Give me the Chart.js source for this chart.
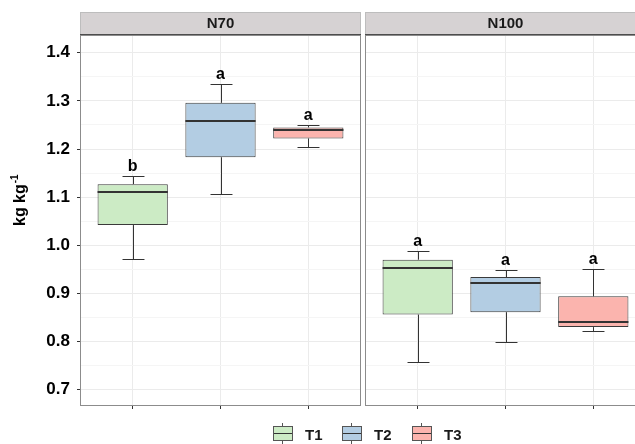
<!DOCTYPE html>
<html>
<head>
<meta charset="utf-8">
<title>N70 / N100</title>
<script src="https://cdn.jsdelivr.net/npm/chart.js@4/dist/chart.umd.min.js"></script>
<style>
body { margin:0; width:635px; height:444px; overflow:hidden; position:relative; background:#fff;
       font-family:"Liberation Sans", Arial, sans-serif; }
.panel { position:absolute; top:0; height:444px; }
#left  { left:0; width:361px; }
#right { left:365px; width:281px; }
.key { position:absolute; top:423px; width:20px; height:21px; }
.key .stub { position:absolute; left:9px; top:0; width:1px; height:21px; background:#555; }
.key .box { position:absolute; left:0; top:3px; width:18px; height:13px; border:1px solid #555; }
.key .mid { position:absolute; left:0; top:6px; width:18px; height:1px; background:#333; }
.keylabel { position:absolute; top:426px; font-weight:bold; font-size:15px; color:#1a1a1a; }
</style>
</head>
<body>
<div class="panel" id="left"><canvas id="n70"></canvas></div>
<div class="panel" id="right"><canvas id="n100"></canvas></div>
<div id="legend"></div>
<script>
var treatments = ['T1', 'T2', 'T3'];
var boxColors = ['#CCEBC5', '#B3CDE3', '#FBB4AE'];
var yTicks = [0.7, 0.75, 0.8, 0.85, 0.9, 0.95, 1.0, 1.05, 1.1, 1.15, 1.2, 1.25, 1.3, 1.35, 1.4];

// N70
var n70Lower   = [0.972, 1.107, 1.204];
var n70Q1      = [1.042, 1.183, 1.222];
var n70Median  = [1.110, 1.258, 1.239];
var n70Q3      = [1.127, 1.296, 1.245];
var n70Upper   = [1.143, 1.335, 1.251];
var n70Letters = ['b', 'a', 'a'];

// N100
var n100Lower   = [0.758, 0.800, 0.821];
var n100Q1      = [0.856, 0.861, 0.830];
var n100Median  = [0.952, 0.921, 0.841];
var n100Q3      = [0.970, 0.934, 0.894];
var n100Upper   = [0.988, 0.949, 0.950];
var n100Letters = ['a', 'a', 'a'];

var FONT = '"Liberation Sans", Arial, sans-serif';

function isMajor( v ){
  return Math.abs( Math.round( v * 10 ) - v * 10 ) < 1e-6;
}

// whiskers, medians, letters, strip and panel frame
var boxExtras = {
  id: 'boxExtras',
  beforeDatasetsDraw: function( chart, args, o ){
    var ctx = chart.ctx, xs = chart.scales.x, ys = chart.scales.y;
    var half = xs.getPixelForValue( 1.125 ) - xs.getPixelForValue( 1 );
    ctx.save();
    ctx.strokeStyle = '#333';
    ctx.lineWidth = 1;
    for( var i = 0; i < o.lower.length; i ++ ){
      var x = Math.round( xs.getPixelForValue( i + 1 ) ) + 0.5;
      var yl = Math.round( ys.getPixelForValue( o.lower[i] ) ) + 0.5;
      var yu = Math.round( ys.getPixelForValue( o.upper[i] ) ) + 0.5;
      ctx.beginPath();
      ctx.moveTo( x, yu ); ctx.lineTo( x, ys.getPixelForValue( o.q3[i] ) );
      ctx.moveTo( x, yl ); ctx.lineTo( x, ys.getPixelForValue( o.q1[i] ) );
      ctx.moveTo( x - half, yu ); ctx.lineTo( x + half, yu );
      ctx.moveTo( x - half, yl ); ctx.lineTo( x + half, yl );
      ctx.stroke();
    }
    ctx.restore();
  },
  afterDatasetsDraw: function( chart, args, o ){
    var ctx = chart.ctx, xs = chart.scales.x, ys = chart.scales.y;
    var meta = chart.getDatasetMeta( 0 );
    ctx.save();
    ctx.strokeStyle = '#333';
    ctx.lineWidth = 2;
    for( var i = 0; i < o.median.length; i ++ ){
      var bar = meta.data[i].getProps( [ 'x', 'width' ], true );
      var ym = Math.round( ys.getPixelForValue( o.median[i] ) );
      ctx.beginPath();
      ctx.moveTo( bar.x - bar.width / 2, ym ); ctx.lineTo( bar.x + bar.width / 2, ym );
      ctx.stroke();
    }
    ctx.fillStyle = '#000';
    ctx.font = 'bold 16px ' + FONT;
    ctx.textAlign = 'center';
    ctx.textBaseline = 'alphabetic';
    for( var i = 0; i < o.letters.length; i ++ ){
      ctx.fillText( o.letters[i], xs.getPixelForValue( i + 1 ), ys.getPixelForValue( o.upper[i] ) - 5 );
    }
    ctx.restore();
  },
  afterDraw: function( chart, args, o ){
    var ctx = chart.ctx, a = chart.chartArea;
    ctx.save();
    // panel frame
    ctx.strokeStyle = '#8c8c8c';
    ctx.lineWidth = 1;
    ctx.strokeRect( a.left + 0.5, a.top + 0.5, a.right - a.left - 1, a.bottom - a.top - 1 );
    // strip
    ctx.fillStyle = '#D6D2D3';
    ctx.fillRect( a.left, 12, a.right - a.left, 23 );
    ctx.strokeStyle = '#bdbdbd';
    ctx.strokeRect( a.left + 0.5, 12.5, a.right - a.left - 1, 22 );
    ctx.strokeStyle = '#4d4d4d';
    ctx.beginPath(); ctx.moveTo( a.left, 34.5 ); ctx.lineTo( a.right, 34.5 ); ctx.stroke();
    ctx.fillStyle = '#1a1a1a';
    ctx.font = 'bold 15px ' + FONT;
    ctx.textAlign = 'center';
    ctx.textBaseline = 'middle';
    ctx.fillText( o.title, ( a.left + a.right ) / 2, 24 );
    // y axis title with superscript
    if( o.yTitle ){
      ctx.translate( 25, 226 );
      ctx.rotate( -Math.PI / 2 );
      ctx.textAlign = 'left';
      ctx.textBaseline = 'alphabetic';
      ctx.fillStyle = '#000';
      ctx.font = 'bold 16px ' + FONT;
      ctx.fillText( 'kg kg', 0, 0 );
      var w = ctx.measureText( 'kg kg' ).width;
      ctx.font = 'bold 10px ' + FONT;
      ctx.fillText( '-1', w + 1, -7 );
    }
    ctx.restore();
  }
};

function makePanel( id, title, lower, q1, median, q3, upper, letters, showY ){
  var data = treatments.map( function( t, i ){ return { x: i + 1, y: [ q1[i], q3[i] ] }; } );
  return new Chart( document.getElementById( id ), {
    type: 'bar',
    data: {
      datasets: [{
        label: title,
        data: data,
        backgroundColor: boxColors,
        borderColor: '#3a3a3a',
        borderWidth: 1,
        borderSkipped: false,
        categoryPercentage: 1,
        barPercentage: 0.8
      }]
    },
    options: {
      responsive: true,
      maintainAspectRatio: false,
      animation: false,
      layout: { padding: { top: 35, left: 0, right: 0, bottom: 0 } },
      plugins: {
        legend: { display: false },
        tooltip: { enabled: false },
        boxExtras: { title: title, lower: lower, q1: q1, median: median, q3: q3, upper: upper, letters: letters, yTitle: showY }
      },
      scales: {
        x: {
          type: 'linear',
          min: 0.4, max: 3.6,
          offset: false,
          afterBuildTicks: function( s ){ s.ticks = treatments.map( function( t, i ){ return { value: i + 1 }; } ); },
          afterFit: function( s ){ s.height = 38; },
          grid: { offset: false, color: '#EBEBEB', tickColor: '#333', tickLength: 3, drawTicks: true },
          border: { display: false },
          ticks: { display: false }
        },
        y: {
          min: 0.666, max: 1.437,
          beginAtZero: false,
          afterBuildTicks: function( s ){ s.ticks = yTicks.map( function( v ){ return { value: v }; } ); },
          afterFit: function( s ){ s.width = showY ? 80 : 0; },
          grid: {
            color: function( c ){ return isMajor( c.tick.value ) ? '#EBEBEB' : '#F5F5F5'; },
            tickColor: function( c ){ return isMajor( c.tick.value ) ? '#333' : 'rgba(0,0,0,0)'; },
            tickLength: 3,
            drawTicks: showY
          },
          border: { display: false },
          ticks: {
            display: showY,
            padding: 7,
            color: '#000',
            font: { family: FONT, size: 17, weight: 'bold' },
            callback: function( v ){ return isMajor( v ) ? v.toFixed( 1 ) : ''; }
          }
        }
      }
    },
    plugins: [ boxExtras ]
  });
}

makePanel( 'n70', 'N70', n70Lower, n70Q1, n70Median, n70Q3, n70Upper, n70Letters, true );
makePanel( 'n100', 'N100', n100Lower, n100Q1, n100Median, n100Q3, n100Upper, n100Letters, false );

// legend keys drawn as small boxplot glyphs
var keyLeft = [273, 342, 412];
var legend = document.getElementById( 'legend' );
treatments.forEach( function( t, i ){
  var k = document.createElement( 'div' );
  k.className = 'key';
  k.style.left = keyLeft[i] + 'px';
  k.innerHTML = '<div class="stub"></div><div class="box" style="background:' + boxColors[i] + '"><div class="mid"></div></div>';
  legend.appendChild( k );
  var l = document.createElement( 'div' );
  l.className = 'keylabel';
  l.style.left = ( keyLeft[i] + 32 ) + 'px';
  l.textContent = t;
  legend.appendChild( l );
});
</script>
</body>
</html>
